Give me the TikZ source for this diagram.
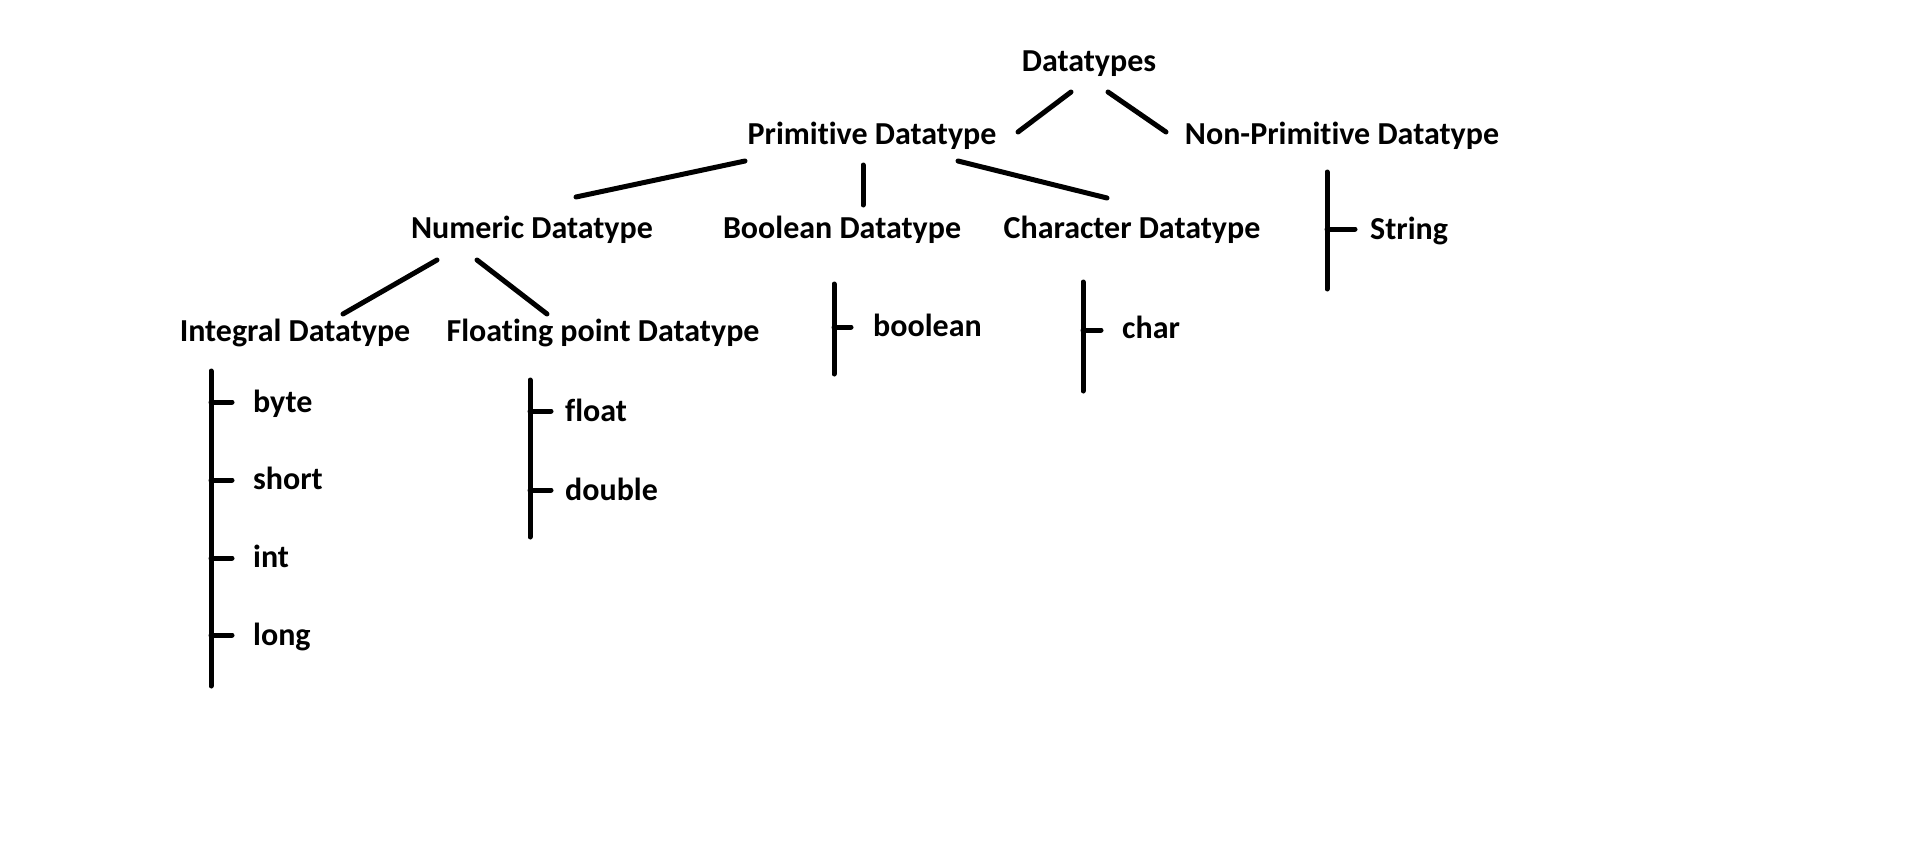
\documentclass[tikz,border=0pt]{standalone}
\usepackage{fontspec}
\setmainfont{Carlito}[Ligatures=NoCommon]
\begin{document}
\begin{tikzpicture}[x=1pt,y=-1pt,
  lbl/.style={font=\fontsize{32}{38}\selectfont\bfseries, inner sep=0pt, text height=0.72em, text depth=0.22em, yshift=-8pt},
  leaf/.style={lbl, anchor=west},
  conn/.style={line width=5pt, line cap=round}]
\useasboundingbox[fill=white] (0,0) rectangle (1914,848);
% headers
\node[lbl] (dt) at (1089,61) {Datatypes};
\node[lbl] (prim) at (872,134) {Primitive Datatype};
\node[lbl] (nonprim) at (1342,134) {Non-Primitive Datatype};
\node[lbl] (num) at (532,228) {Numeric Datatype};
\node[lbl] (bool) at (842,228) {Boolean Datatype};
\node[lbl] (chr) at (1132,228) {Character Datatype};
\node[lbl] (intg) at (295,331) {Integral Datatype};
\node[lbl] (flt) at (603,331) {Floating point Datatype};
% leaves
\node[leaf] (string) at (1370,229) {String};
\node[leaf] (boolean) at (873,326) {boolean};
\node[leaf] (char) at (1122,328) {char};
\node[leaf] (byte) at (253,402) {byte};
\node[leaf] (short) at (253,479) {short};
\node[leaf] (int) at (253,557) {int};
\node[leaf] (long) at (253,635) {long};
\node[leaf] (float) at (565,411) {float};
\node[leaf] (double) at (565,490) {double};
% connector end points
\coordinate (dtL) at (1071,92);   \coordinate (primR) at (1018,132);
\coordinate (dtR) at (1108,92);   \coordinate (nonL) at (1166,132);
\coordinate (primL) at (745,161); \coordinate (numT) at (576,197);
\coordinate (primB) at (863,165); \coordinate (boolT) at (863,205);
\coordinate (primC) at (958,161); \coordinate (chrT) at (1107,198);
\coordinate (numL) at (437,260);  \coordinate (intT) at (343,314);
\coordinate (numR) at (477,260);  \coordinate (fltT) at (547,314);
% bars
\coordinate (npTop) at (1327,172); \coordinate (npBot) at (1327,289);
\coordinate (bTop) at (834,284);   \coordinate (bBot) at (834,374);
\coordinate (cTop) at (1083,282);  \coordinate (cBot) at (1083,391);
\coordinate (iTop) at (211,371);   \coordinate (iBot) at (211,686);
\coordinate (fTop) at (530,380);   \coordinate (fBot) at (530,537);
\draw[conn] (dtL) -- (primR);
\draw[conn] (dtR) -- (nonL);
\draw[conn] (primL) -- (numT);
\draw[conn] (primB) -- (boolT);
\draw[conn] (primC) -- (chrT);
\draw[conn] (numL) -- (intT);
\draw[conn] (numR) -- (fltT);
\draw[conn] (npTop) -- (npBot);
\draw[conn] (bTop) -- (bBot);
\draw[conn] (cTop) -- (cBot);
\draw[conn] (iTop) -- (iBot);
\draw[conn] (fTop) -- (fBot);
% ticks
\draw[conn] (1327,229) -- (1355,229);
\draw[conn] (834,327) -- (851,327);
\draw[conn] (1083,330) -- (1101,330);
\foreach \n/\yy in {byte/402,short/480,int/558,long/635}
  \draw[conn] (211,\yy) -- (232,\yy);
\foreach \n/\yy in {float/411,double/490}
  \draw[conn] (530,\yy) -- (551,\yy);
\end{tikzpicture}
\end{document}
